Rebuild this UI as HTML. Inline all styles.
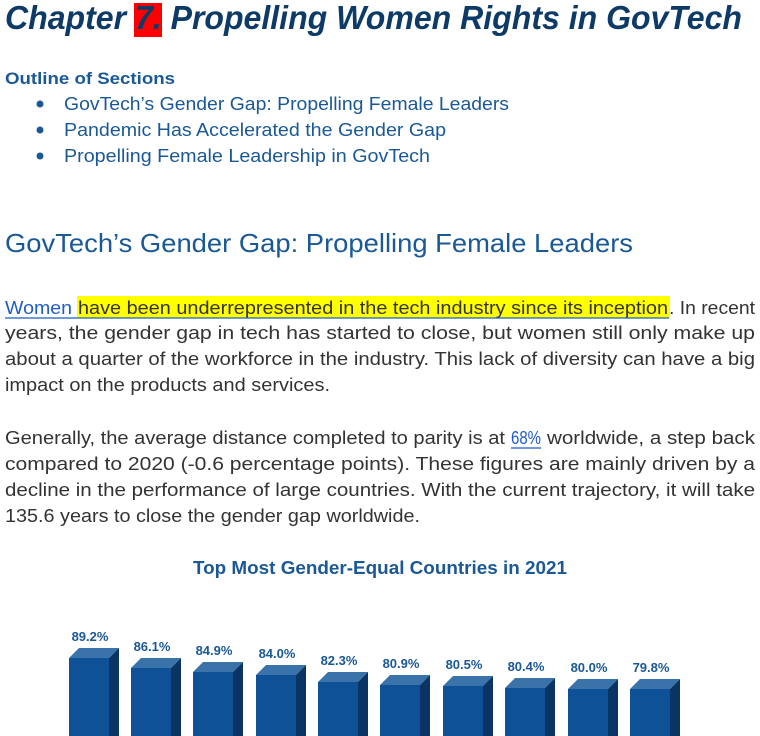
<!DOCTYPE html>
<html><head><meta charset="utf-8"><style>
html,body{margin:0;padding:0;background:#fff;width:760px;height:736px;overflow:hidden}
svg{display:block}
.b{font-family:"Liberation Sans",sans-serif;font-size:18px;fill:#333}
.l{fill:#1f5cc4}
.h{font-family:"Liberation Sans",sans-serif;fill:#1a5896}
.v{font-family:"Liberation Sans",sans-serif;font-size:13px;font-weight:bold;fill:#1a5896}
.tp{fill:#3a72aa}.sd{fill:#093463}.fr{fill:#0f5196}
</style></head><body>
<svg width="760" height="736" xmlns="http://www.w3.org/2000/svg">
<rect x="134" y="3" width="28" height="34" fill="#ff0000"/>
<text x="5" y="29" font-family="Liberation Sans,sans-serif" font-size="33" font-weight="bold" font-style="italic" fill="#0d3a66" textLength="737" lengthAdjust="spacingAndGlyphs">Chapter 7. Propelling Women Rights in GovTech</text>

<text class="h" x="5" y="84" font-size="17" font-weight="bold" textLength="170" lengthAdjust="spacingAndGlyphs">Outline of Sections</text>
<circle cx="40" cy="104" r="3.5" fill="#1a5896"/>
<circle cx="40" cy="130" r="3.5" fill="#1a5896"/>
<circle cx="40" cy="156" r="3.5" fill="#1a5896"/>
<text class="h" x="64" y="110" font-size="18" textLength="445" lengthAdjust="spacingAndGlyphs">GovTech’s Gender Gap: Propelling Female Leaders</text>
<text class="h" x="64" y="136" font-size="18" textLength="382" lengthAdjust="spacingAndGlyphs">Pandemic Has Accelerated the Gender Gap</text>
<text class="h" x="64" y="162" font-size="18" textLength="366" lengthAdjust="spacingAndGlyphs">Propelling Female Leadership in GovTech</text>

<text class="h" x="5" y="252" font-size="26" textLength="628" lengthAdjust="spacingAndGlyphs">GovTech’s Gender Gap: Propelling Female Leaders</text>

<rect x="77" y="296" width="593" height="22" fill="#ffff00"/>
<text class="b l" x="5" y="314" textLength="67" lengthAdjust="spacingAndGlyphs">Women</text>
<text class="b" x="78" y="314" textLength="590" lengthAdjust="spacingAndGlyphs">have been underrepresented in the tech industry since its inception</text>
<line x1="5" y1="318" x2="669" y2="318" stroke="#1f5cc4" stroke-width="1.2"/>
<text class="b" x="669" y="314" textLength="86" lengthAdjust="spacingAndGlyphs">. In recent</text>
<text class="b" x="5" y="339" textLength="750" lengthAdjust="spacingAndGlyphs">years, the gender gap in tech has started to close, but women still only make up</text>
<text class="b" x="5" y="365" textLength="750" lengthAdjust="spacingAndGlyphs">about a quarter of the workforce in the industry. This lack of diversity can have a big</text>
<text class="b" x="5" y="391" textLength="325" lengthAdjust="spacingAndGlyphs">impact on the products and services.</text>

<text class="b" x="5" y="444" textLength="500" lengthAdjust="spacingAndGlyphs">Generally, the average distance completed to parity is at</text>
<text class="b l" x="511" y="444" textLength="30" lengthAdjust="spacingAndGlyphs">68%</text>
<line x1="511" y1="448" x2="541" y2="448" stroke="#1f5cc4" stroke-width="1.2"/>
<text class="b" x="547" y="444" textLength="208" lengthAdjust="spacingAndGlyphs">worldwide, a step back</text>
<text class="b" x="5" y="470" textLength="750" lengthAdjust="spacingAndGlyphs">compared to 2020 (-0.6 percentage points). These figures are mainly driven by a</text>
<text class="b" x="5" y="496" textLength="750" lengthAdjust="spacingAndGlyphs">decline in the performance of large countries. With the current trajectory, it will take</text>
<text class="b" x="5" y="522" textLength="415" lengthAdjust="spacingAndGlyphs">135.6 years to close the gender gap worldwide.</text>

<text class="h" x="193" y="574" font-size="18" font-weight="bold" textLength="374" lengthAdjust="spacingAndGlyphs">Top Most Gender-Equal Countries in 2021</text>

<polygon class="tp" points="69,658 109,658 119,648 79,648"/><polygon class="sd" points="109,658 119,648 119,740 109,740"/><rect class="fr" x="69" y="658" width="40" height="80"/><text class="v" x="90" y="641" text-anchor="middle">89.2%</text>
<polygon class="tp" points="131,668 171,668 181,658 141,658"/><polygon class="sd" points="171,668 181,658 181,740 171,740"/><rect class="fr" x="131" y="668" width="40" height="70"/><text class="v" x="152" y="651" text-anchor="middle">86.1%</text>
<polygon class="tp" points="193,672 233,672 243,662 203,662"/><polygon class="sd" points="233,672 243,662 243,740 233,740"/><rect class="fr" x="193" y="672" width="40" height="66"/><text class="v" x="214" y="655" text-anchor="middle">84.9%</text>
<polygon class="tp" points="256,675 296,675 306,665 266,665"/><polygon class="sd" points="296,675 306,665 306,740 296,740"/><rect class="fr" x="256" y="675" width="40" height="63"/><text class="v" x="277" y="658" text-anchor="middle">84.0%</text>
<polygon class="tp" points="318,682 358,682 368,672 328,672"/><polygon class="sd" points="358,682 368,672 368,740 358,740"/><rect class="fr" x="318" y="682" width="40" height="56"/><text class="v" x="339" y="665" text-anchor="middle">82.3%</text>
<polygon class="tp" points="380,685 420,685 430,675 390,675"/><polygon class="sd" points="420,685 430,675 430,740 420,740"/><rect class="fr" x="380" y="685" width="40" height="53"/><text class="v" x="401" y="668" text-anchor="middle">80.9%</text>
<polygon class="tp" points="443,686 483,686 493,676 453,676"/><polygon class="sd" points="483,686 493,676 493,740 483,740"/><rect class="fr" x="443" y="686" width="40" height="52"/><text class="v" x="464" y="669" text-anchor="middle">80.5%</text>
<polygon class="tp" points="505,688 545,688 555,678 515,678"/><polygon class="sd" points="545,688 555,678 555,740 545,740"/><rect class="fr" x="505" y="688" width="40" height="50"/><text class="v" x="526" y="671" text-anchor="middle">80.4%</text>
<polygon class="tp" points="568,689 608,689 618,679 578,679"/><polygon class="sd" points="608,689 618,679 618,740 608,740"/><rect class="fr" x="568" y="689" width="40" height="49"/><text class="v" x="589" y="672" text-anchor="middle">80.0%</text>
<polygon class="tp" points="630,689 670,689 680,679 640,679"/><polygon class="sd" points="670,689 680,679 680,740 670,740"/><rect class="fr" x="630" y="689" width="40" height="49"/><text class="v" x="651" y="672" text-anchor="middle">79.8%</text>
</svg>
</body></html>
